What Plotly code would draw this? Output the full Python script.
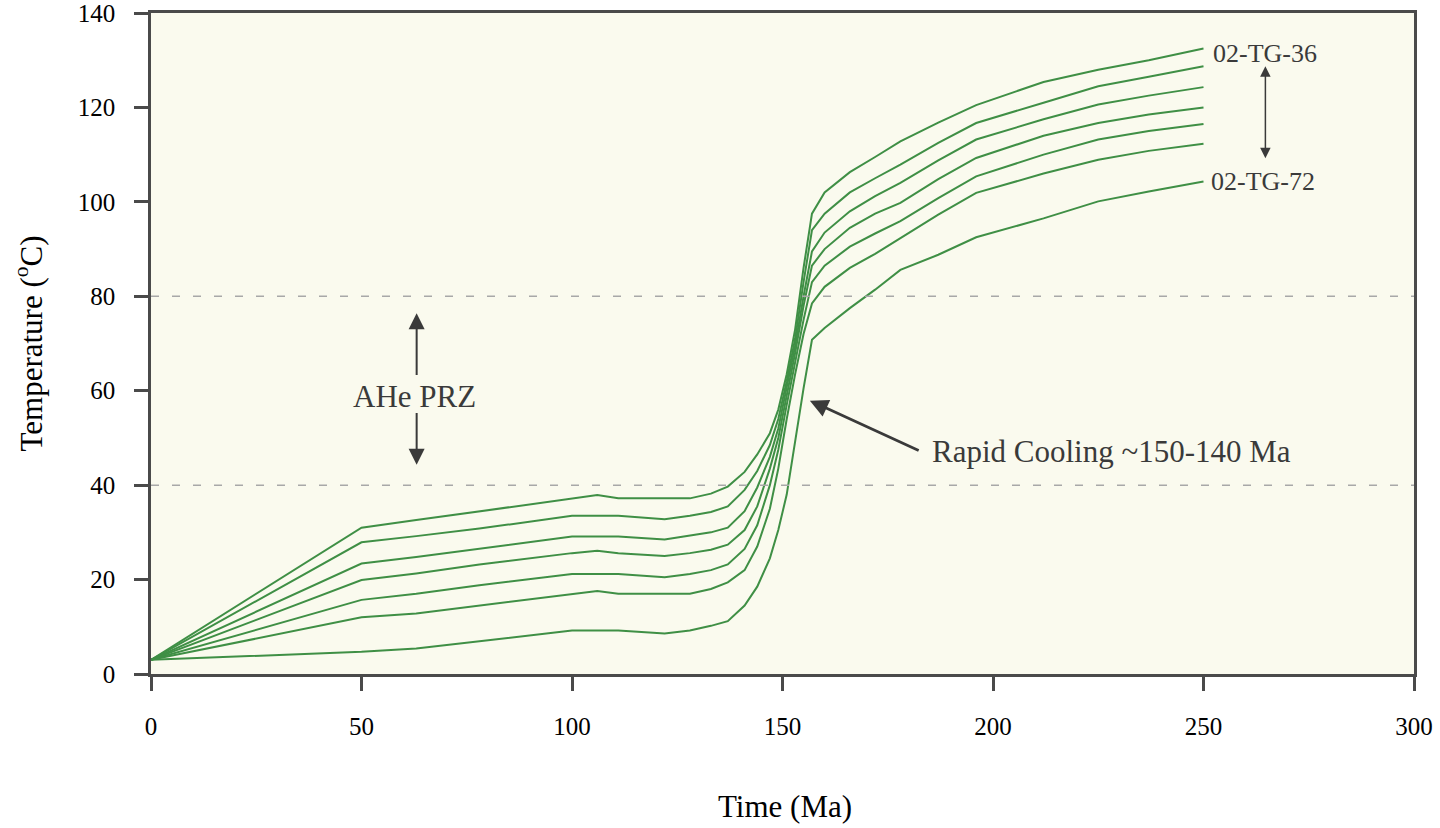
import plotly.graph_objects as go

# Time axis (Ma) shared by all thermal histories
time_ma = [0, 50, 63, 78, 100, 106, 111, 122, 128, 133, 137, 141, 144, 147, 149,
           151, 153, 155, 157, 160, 166, 172, 178, 187, 196, 212, 225, 237, 250]

# Modelled temperature paths (deg C), from 02-TG-36 (top) down to 02-TG-72 (bottom)
temp_tg36 = [3.0, 31.0, 32.6, 34.5, 37.2, 37.9, 37.2, 37.2, 37.2, 38.2, 39.7, 42.8, 46.5, 51.0, 56.0,
             63.5, 73.0, 86.0, 97.5, 102.0, 106.3, 109.5, 112.8, 116.8, 120.5, 125.4, 128.0, 130.0, 132.5]
temp_b = [3.0, 27.9, 29.2, 30.8, 33.5, 33.5, 33.5, 32.8, 33.5, 34.3, 35.5, 39.0, 43.0, 48.5, 54.0,
          62.0, 71.0, 83.0, 94.0, 97.5, 102.0, 105.0, 107.9, 112.5, 116.7, 121.0, 124.5, 126.5, 128.7]
temp_c = [3.0, 23.4, 24.8, 26.6, 29.1, 29.1, 29.1, 28.5, 29.3, 30.0, 31.0, 34.5, 39.5, 46.0, 52.0,
          60.5, 69.5, 80.0, 89.5, 93.5, 98.0, 101.2, 104.0, 108.8, 113.2, 117.5, 120.6, 122.5, 124.3]
temp_d = [3.0, 19.9, 21.3, 23.2, 25.6, 26.1, 25.6, 25.0, 25.6, 26.3, 27.4, 30.5, 35.5, 43.5, 50.0,
          59.0, 68.0, 78.0, 86.5, 90.0, 94.5, 97.5, 99.8, 104.8, 109.3, 114.0, 116.7, 118.5, 120.0]
temp_e = [3.0, 15.7, 17.0, 18.8, 21.2, 21.2, 21.2, 20.5, 21.2, 22.0, 23.2, 26.5, 31.5, 40.0, 47.5,
          57.0, 66.0, 75.0, 83.0, 86.5, 90.5, 93.3, 95.9, 100.8, 105.4, 110.0, 113.2, 115.0, 116.5]
temp_f = [3.0, 12.0, 12.8, 14.5, 17.0, 17.6, 17.0, 17.0, 17.0, 18.0, 19.4, 22.0, 27.0, 35.0, 43.5,
          54.0, 63.5, 72.0, 78.5, 82.0, 86.0, 89.0, 92.3, 97.3, 101.9, 106.0, 108.9, 110.8, 112.3]
temp_tg72 = [3.0, 4.7, 5.4, 7.0, 9.2, 9.2, 9.2, 8.6, 9.2, 10.2, 11.2, 14.5, 18.5, 24.5, 30.5,
             38.0, 49.5, 60.5, 70.8, 73.3, 77.5, 81.4, 85.6, 88.8, 92.5, 96.5, 100.1, 102.2, 104.3]

paths = [temp_tg36, temp_b, temp_c, temp_d, temp_e, temp_f, temp_tg72]

# AHe partial retention zone bounds (deg C)
prz_top = 80
prz_bottom = 40

x_ticks = [0, 50, 100, 150, 200, 250, 300]
y_ticks = [0, 20, 40, 60, 80, 100, 120, 140]

SERIF = "Liberation Serif, Times New Roman, serif"
AXIS_COLOR = "#4a4a4a"
TEXT_GRAY = "#3a3a3a"
LINE_GREEN = "#3f8f45"

fig = go.Figure()

for p in paths:
    fig.add_trace(go.Scatter(x=time_ma, y=p, mode="lines",
                             line=dict(color=LINE_GREEN, width=2),
                             showlegend=False, hoverinfo="skip"))

for level in (prz_top, prz_bottom):
    fig.add_shape(type="line", xref="x", yref="y", x0=0, x1=300, y0=level, y1=level,
                  line=dict(color="#a8a8a8", width=1.5, dash="8px,13px"))

axis_common = dict(
    showgrid=False, zeroline=False, showline=True, linecolor=AXIS_COLOR, linewidth=2.5,
    mirror=True, ticks="outside", ticklen=14, tickwidth=2.5, tickcolor=AXIS_COLOR,
    automargin=False, ticklabeloverflow="allow",
    tickfont=dict(family=SERIF, size=25, color="#000000"),
)

fig.update_xaxes(range=[0, 300], tickvals=x_ticks, ticktext=[str(v) for v in x_ticks],
                 ticklabelstandoff=14, **axis_common)
fig.update_yaxes(range=[0, 140], tickvals=y_ticks, ticktext=[str(v) for v in y_ticks],
                 ticklabelstandoff=14, **axis_common)

annotations = [
    # axis titles
    dict(xref="paper", yref="paper", x=(785 - 151) / 1263, y=(674 - 806) / 661,
         text="Time (Ma)", showarrow=False, xanchor="center", yanchor="middle",
         font=dict(family=SERIF, size=31, color="#000000")),
    dict(xref="paper", yref="paper", x=(29 - 151) / 1263, y=0.5,
         text="Temperature (<sup>o</sup>C)", showarrow=False, textangle=-90,
         xanchor="center", yanchor="middle",
         font=dict(family=SERIF, size=31, color="#000000")),
    # sample labels
    dict(x=264.6, y=131.5, text="02-TG-36", showarrow=False, xanchor="center", yanchor="middle",
         font=dict(family=SERIF, size=26, color=TEXT_GRAY)),
    dict(x=264.2, y=104.3, text="02-TG-72", showarrow=False, xanchor="center", yanchor="middle",
         font=dict(family=SERIF, size=26, color=TEXT_GRAY)),
    dict(x=264.7, y=128.7, ax=264.7, ay=108.9, axref="x", ayref="y", text="",
         showarrow=True, arrowside="end+start", arrowhead=2, arrowsize=1.4,
         arrowwidth=1.5, arrowcolor=TEXT_GRAY, standoff=0, startstandoff=0),
    # partial retention zone label and arrows
    dict(x=62.7, y=58.7, text="AHe PRZ", showarrow=False, xanchor="center", yanchor="middle",
         font=dict(family=SERIF, size=31, color=TEXT_GRAY)),
    dict(x=63.1, y=76.4, ax=63.1, ay=63.0, axref="x", ayref="y", text="",
         showarrow=True, arrowhead=2, arrowsize=1.6, arrowwidth=2,
         arrowcolor=TEXT_GRAY, standoff=0),
    dict(x=63.1, y=44.3, ax=63.1, ay=55.6, axref="x", ayref="y", text="",
         showarrow=True, arrowhead=2, arrowsize=1.6, arrowwidth=2,
         arrowcolor=TEXT_GRAY, standoff=0),
    # rapid cooling callout
    dict(x=185.0, y=47.2, text="Rapid Cooling ~150-140 Ma", showarrow=False,
         xanchor="left", yanchor="middle",
         font=dict(family=SERIF, size=31, color=TEXT_GRAY)),
    dict(x=156.5, y=57.9, ax=182.7, ay=47.2, axref="x", ayref="y", text="",
         showarrow=True, arrowhead=2, arrowsize=1.3, arrowwidth=2.8,
         arrowcolor=TEXT_GRAY, standoff=0),
]

fig.update_layout(
    width=1440, height=828,
    margin=dict(l=151, r=26, t=13, b=154, pad=0),
    paper_bgcolor="#ffffff", plot_bgcolor="#fafaee",
    annotations=annotations,
    showlegend=False,
)

fig.write_html("out.html")
